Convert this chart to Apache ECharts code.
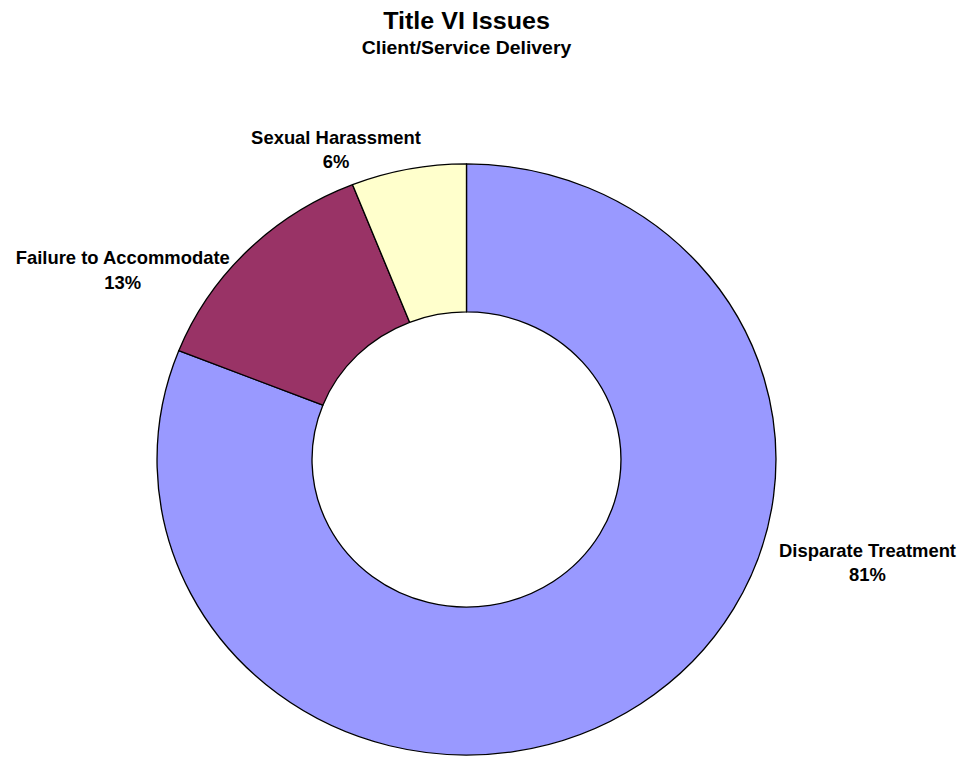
<!DOCTYPE html>
<html>
<head>
<meta charset="utf-8">
<script src="https://cdn.jsdelivr.net/npm/echarts@6/dist/echarts.min.js"></script>
<style>
  html, body { margin: 0; padding: 0; background: #fff; overflow: hidden; }
  /* The doughnut is drawn slightly oval: stretch the whole drawing a little */
  #chart {
    width: 944px; height: 777px;
    transform: scale(1.023, 0.977);
    transform-origin: 0 0;
  }
</style>
</head>
<body>
<div id="chart"></div>
<script>
// Complaint categories and their share of Title VI issues (%)
const categories = ['Disparate Treatment', 'Failure to Accommodate', 'Sexual Harassment'];
const shares = [81, 13, 6];
const sliceColors = ['#9999FF', '#993366', '#FFFFCC'];

// Label anchor points (text block centres), one per slice
const labelAnchors = [[848, 576], [120, 277], [328.5, 153.5]];

const FONT = '"Liberation Sans", Arial, Helvetica, sans-serif';
const CX = 456;

const chart = echarts.init(document.getElementById('chart'), null, { renderer: 'svg' });

chart.setOption({
  animation: false,
  backgroundColor: '#ffffff',
  graphic: [
    {
      type: 'text', x: CX, y: 21.5,
      style: {
        text: 'Title VI Issues', fill: '#000',
        font: 'bold 24.5px ' + FONT, textAlign: 'center', textVerticalAlign: 'middle'
      }
    },
    {
      type: 'text', x: CX, y: 48.5,
      style: {
        text: 'Client/Service Delivery', fill: '#000',
        font: 'bold 19px ' + FONT, textAlign: 'center', textVerticalAlign: 'middle'
      }
    }
  ],
  series: [{
    type: 'pie',
    center: [CX, 470.3],
    radius: [151, 302.5],
    startAngle: 90,
    clockwise: true,
    avoidLabelOverlap: false,
    itemStyle: { borderColor: '#000', borderWidth: 1.3 },
    label: {
      show: true,
      position: 'outside',
      formatter: p => p.name + '\n' + p.value + '%',
      fontFamily: FONT,
      fontSize: 18,
      fontWeight: 'bold',
      color: '#000',
      lineHeight: 24.6,
      align: 'center'
    },
    labelLine: { show: false },
    labelLayout: params => {
      const a = labelAnchors[params.dataIndex];
      return { x: a[0], y: a[1], align: 'center', verticalAlign: 'middle' };
    },
    emphasis: { disabled: true },
    data: categories.map((name, i) => ({
      name,
      value: shares[i],
      itemStyle: { color: sliceColors[i] }
    }))
  }]
});
</script>
</body>
</html>
